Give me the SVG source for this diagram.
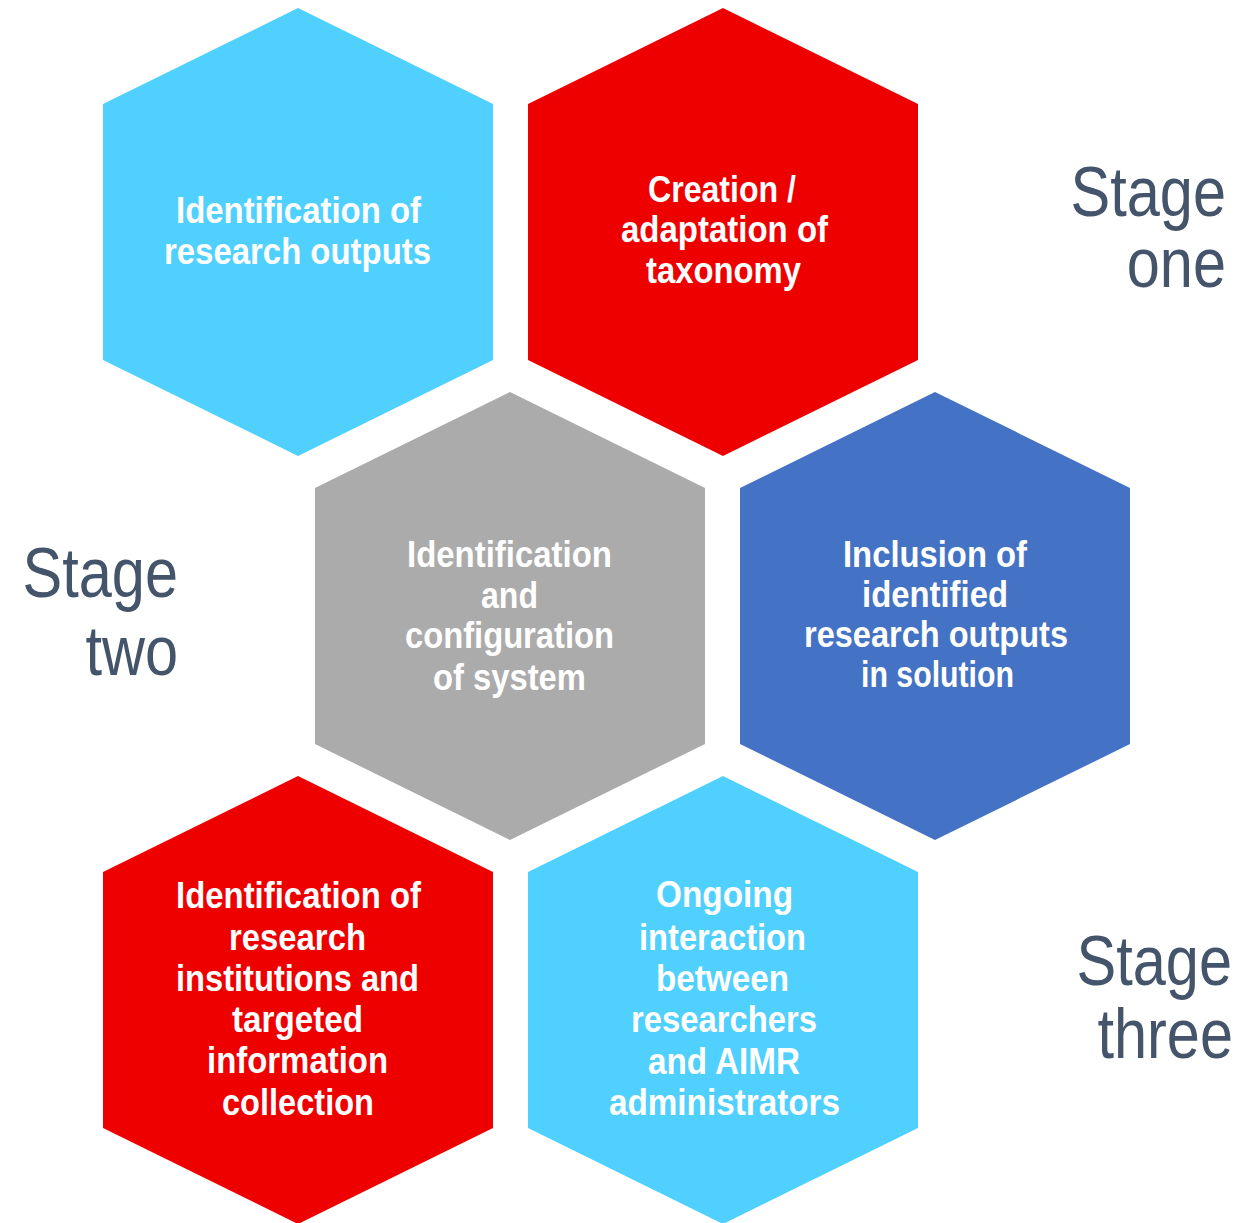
<svg xmlns="http://www.w3.org/2000/svg" width="1248" height="1223" viewBox="0 0 1248 1223">
<style>
.t{font-family:"Liberation Sans",Arial,sans-serif;font-weight:bold;font-size:36px;fill:#ffffff}
.s{font-family:"Liberation Sans",Arial,sans-serif;font-size:59.5px;fill:#44546A;text-anchor:end}
.lb{fill:#4FD0FF}.rd{fill:#EE0000}.gy{fill:#ABABAB}.bl{fill:#4472C4}
</style>
<defs>
<polygon id="hex" points="0,0 195,96 195,352 0,448 -195,352 -195,96"/>
</defs>
<rect width="1248" height="1223" fill="#ffffff"/>
<g id="hex1">
<use href="#hex" x="298" y="8" class="lb"/>
<text class="t"><tspan lengthAdjust="spacingAndGlyphs" x="176" y="223" textLength="245">Identification of</tspan><tspan lengthAdjust="spacingAndGlyphs" x="164" y="264" textLength="267">research outputs</tspan></text>
</g>
<g id="hex2">
<use href="#hex" x="723" y="8" class="rd"/>
<text class="t"><tspan lengthAdjust="spacingAndGlyphs" x="648" y="202" textLength="148">Creation /</tspan><tspan lengthAdjust="spacingAndGlyphs" x="621" y="242" textLength="207">adaptation of</tspan><tspan lengthAdjust="spacingAndGlyphs" x="646" y="283" textLength="155">taxonomy</tspan></text>
</g>
<g id="hex3">
<use href="#hex" x="510" y="392" class="gy"/>
<text class="t"><tspan lengthAdjust="spacingAndGlyphs" x="407" y="567" textLength="205">Identification</tspan><tspan lengthAdjust="spacingAndGlyphs" x="481" y="608" textLength="57">and</tspan><tspan lengthAdjust="spacingAndGlyphs" x="405" y="648" textLength="209">configuration</tspan><tspan lengthAdjust="spacingAndGlyphs" x="433" y="690" textLength="153">of system</tspan></text>
</g>
<g id="hex4">
<use href="#hex" x="935" y="392" class="bl"/>
<text class="t"><tspan lengthAdjust="spacingAndGlyphs" x="843" y="567" textLength="184">Inclusion of</tspan><tspan lengthAdjust="spacingAndGlyphs" x="862" y="607" textLength="146">identified</tspan><tspan lengthAdjust="spacingAndGlyphs" x="804" y="647" textLength="264">research outputs</tspan><tspan lengthAdjust="spacingAndGlyphs" x="861" y="687" textLength="153">in solution</tspan></text>
</g>
<g id="hex5">
<use href="#hex" x="298" y="776" class="rd"/>
<text class="t"><tspan lengthAdjust="spacingAndGlyphs" x="176" y="908" textLength="245">Identification of</tspan><tspan lengthAdjust="spacingAndGlyphs" x="229" y="950" textLength="137">research</tspan><tspan lengthAdjust="spacingAndGlyphs" x="176" y="991" textLength="243">institutions and</tspan><tspan lengthAdjust="spacingAndGlyphs" x="232" y="1032" textLength="131">targeted</tspan><tspan lengthAdjust="spacingAndGlyphs" x="207" y="1073" textLength="181">information</tspan><tspan lengthAdjust="spacingAndGlyphs" x="222" y="1115" textLength="152">collection</tspan></text>
</g>
<g id="hex6">
<use href="#hex" x="723" y="776" class="lb"/>
<text class="t"><tspan lengthAdjust="spacingAndGlyphs" x="656" y="907" textLength="137">Ongoing</tspan><tspan lengthAdjust="spacingAndGlyphs" x="639" y="950" textLength="167">interaction</tspan><tspan lengthAdjust="spacingAndGlyphs" x="656" y="991" textLength="133">between</tspan><tspan lengthAdjust="spacingAndGlyphs" x="631" y="1032" textLength="186">researchers</tspan><tspan lengthAdjust="spacingAndGlyphs" x="648" y="1074" textLength="152">and AIMR</tspan><tspan lengthAdjust="spacingAndGlyphs" x="609" y="1115" textLength="231">administrators</tspan></text>
</g>
<g id="stages" transform="scale(1,1.1765)">
<g id="stage1">
<text class="s"><tspan x="1226" y="183.6">Stage</tspan><tspan x="1226" y="243.9">one</tspan></text>
</g>
<g id="stage2">
<text class="s"><tspan x="178" y="507.4">Stage</tspan><tspan x="178" y="573.7">two</tspan></text>
</g>
<g id="stage3">
<text class="s"><tspan x="1232" y="837.2">Stage</tspan><tspan x="1233" y="899.3">three</tspan></text>
</g>
</g>
<g id="connectors"/>
</svg>
